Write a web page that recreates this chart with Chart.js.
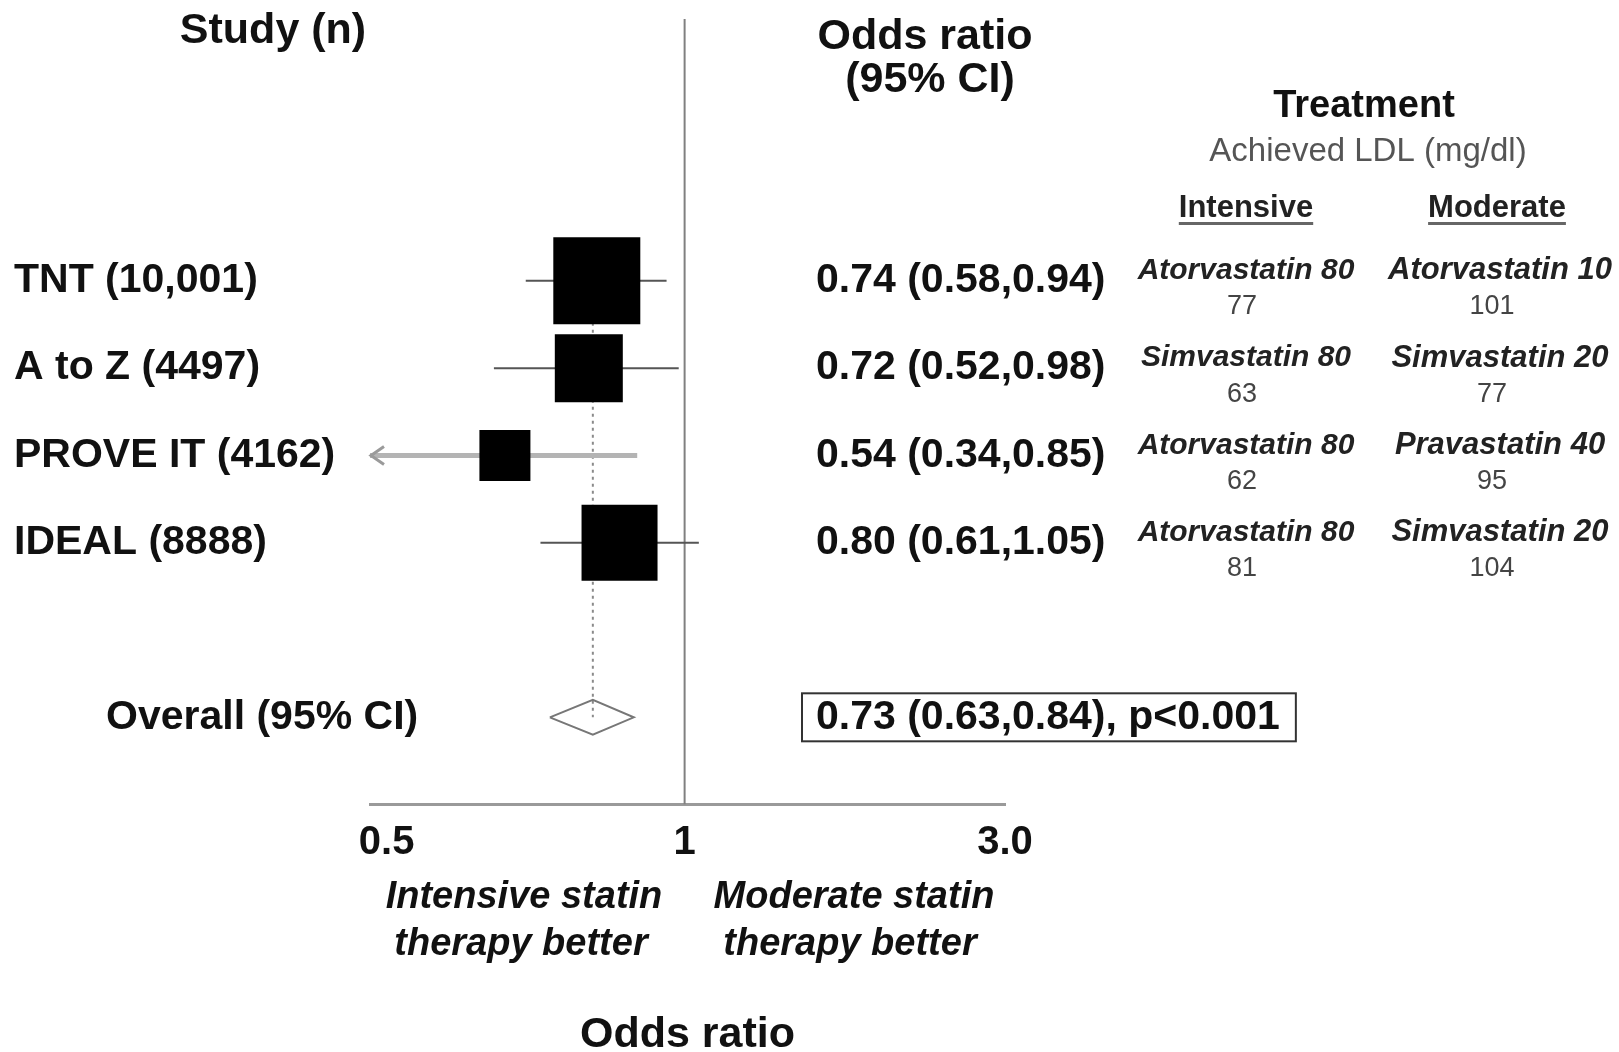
<!DOCTYPE html>
<html>
<head>
<meta charset="utf-8">
<script src="https://cdn.jsdelivr.net/npm/chart.js@4.4.1/dist/chart.umd.min.js"></script>
<style>
  html, body { margin: 0; padding: 0; background: #fff; }
  #wrap { width: 1619px; height: 1052px; }
</style>
</head>
<body>
<div id="wrap"><canvas id="forest" width="1619" height="1052"></canvas></div>
<script>
"use strict";

// study data
var studies = ['TNT (10,001)', 'A to Z (4497)', 'PROVE IT (4162)', 'IDEAL (8888)'];
var oddsRatio = [0.74, 0.72, 0.54, 0.80];
var ciLow = [0.58, 0.52, 0.34, 0.61];
var ciHigh = [0.94, 0.98, 0.85, 1.05];
var intensiveDrug = ['Atorvastatin 80', 'Simvastatin 80', 'Atorvastatin 80', 'Atorvastatin 80'];
var intensiveLDL = [77, 63, 62, 81];
var moderateDrug = ['Atorvastatin 10', 'Simvastatin 20', 'Pravastatin 40', 'Simvastatin 20'];
var moderateLDL = [101, 77, 95, 104];

var overallLabel = 'Overall (95% CI)';
var overallOR = 0.73;
var overallLow = 0.63;
var overallHigh = 0.84;
var overallP = 'p<0.001';

var tickValues = [0.36, 1, 3.0];
var tickLabels = ['0.5', '1', '3.0'];

// look
var boxSide = [87, 68, 51, 76];
var ciColor = ['#555', '#555', '#b4b4b4', '#555'];
var ciWidth = [2, 2, 5, 2];
var FONT = '"Liberation Sans", Arial, sans-serif';
var overallRow = studies.length + 2;

Chart.defaults.font.family = FONT;

function fmt(v) { return v.toFixed(2); }
function ciText(or, lo, hi) { return fmt(or) + ' (' + fmt(lo) + ',' + fmt(hi) + ')'; }

var datasets = [];

datasets.push({
	label: 'Odds ratio',
	data: oddsRatio.map(function (v, i) { return {x: v, y: i + 1}; }),
	pointStyle: 'rect',
	pointRadius: function (ctx) { return boxSide[ctx.dataIndex] / Math.SQRT2; },
	backgroundColor: '#000',
	borderWidth: 0,
	order: 0
});

for (var i = 0; i < studies.length; i++) {
	datasets.push({
		label: studies[i] + ' CI',
		data: [{x: ciLow[i], y: i + 1}, {x: ciHigh[i], y: i + 1}],
		showLine: true,
		borderColor: ciColor[i],
		borderWidth: ciWidth[i],
		pointRadius: 0,
		order: 1
	});
}

datasets.push({
	label: 'Overall',
	data: [
		{x: overallLow, y: overallRow},
		{x: overallOR, y: overallRow - 0.2},
		{x: overallHigh, y: overallRow},
		{x: overallOR, y: overallRow + 0.2},
		{x: overallLow, y: overallRow}
	],
	showLine: true,
	borderColor: '#777',
	borderWidth: 2,
	pointRadius: 0,
	fill: false,
	order: 1
});

datasets.push({
	label: 'Overall estimate',
	data: [{x: overallOR, y: 1}, {x: overallOR, y: overallRow}],
	showLine: true,
	borderColor: '#8a8a8a',
	borderWidth: 2,
	borderDash: [3, 4],
	pointRadius: 0,
	order: 2
});

datasets.push({
	label: 'No effect',
	data: [{x: 1, y: -2}, {x: 1, y: 7}],
	showLine: true,
	borderColor: '#808080',
	borderWidth: 2,
	pointRadius: 0,
	order: 3
});

function txt(ctx, s, x, y, font, color, align) {
	ctx.font = font;
	ctx.fillStyle = color || '#111';
	ctx.textAlign = align || 'left';
	ctx.textBaseline = 'middle';
	ctx.fillText(s, x, y);
	return ctx.measureText(s).width;
}

var forestText = {
	id: 'forestText',
	afterDraw: function (chart) {
		var ctx = chart.ctx;
		var xs = chart.scales.x;
		var ys = chart.scales.y;
		ctx.save();

		// headers
		txt(ctx, 'Study (n)', 273, 31, 'bold 43px ' + FONT, '#111', 'center');
		txt(ctx, 'Odds ratio', 925, 37, 'bold 43px ' + FONT, '#111', 'center');
		txt(ctx, '(95% CI)', 930, 80, 'bold 43px ' + FONT, '#111', 'center');
		txt(ctx, 'Treatment', 1364, 107, 'bold 38px ' + FONT, '#111', 'center');
		txt(ctx, 'Achieved LDL (mg/dl)', 1368, 152, '33px ' + FONT, '#555', 'center');
		var cols = [1246, 1500];
		var heads = ['Intensive', 'Moderate'];
		for (var c = 0; c < 2; c++) {
			var w = txt(ctx, heads[c], cols[c] - 3 * c, 208, 'bold 31px ' + FONT, '#222', 'center');
			ctx.fillStyle = '#666';
			ctx.fillRect(cols[c] - 3 * c - w / 2, 222, w, 3);
		}

		// rows
		for (var i = 0; i < studies.length; i++) {
			var y = ys.getPixelForValue(i + 1);
			txt(ctx, studies[i], 14, y, 'bold 41px ' + FONT);
			txt(ctx, ciText(oddsRatio[i], ciLow[i], ciHigh[i]), 816, y, 'bold 41px ' + FONT);
			txt(ctx, intensiveDrug[i], cols[0], y - 10, 'italic bold 30px ' + FONT, '#222', 'center');
			txt(ctx, moderateDrug[i], cols[1], y - 10, 'italic bold 31px ' + FONT, '#222', 'center');
			txt(ctx, String(intensiveLDL[i]), cols[0] - 4, y + 26, '27px ' + FONT, '#444', 'center');
			txt(ctx, String(moderateLDL[i]), cols[1] - 8, y + 26, '27px ' + FONT, '#444', 'center');

			// arrow when CI runs off the axis
			if (ciLow[i] <= xs.min * 1.001) {
				var ax = xs.getPixelForValue(ciLow[i]);
				ctx.strokeStyle = '#9a9a9a';
				ctx.lineWidth = 3;
				ctx.beginPath();
				ctx.moveTo(ax + 14, y - 9);
				ctx.lineTo(ax + 1, y);
				ctx.lineTo(ax + 14, y + 9);
				ctx.stroke();
			}
		}

		// overall
		var oy = ys.getPixelForValue(overallRow);
		txt(ctx, overallLabel, 106, oy, 'bold 41px ' + FONT);
		var ow = txt(ctx, ciText(overallOR, overallLow, overallHigh) + ', ' + overallP, 816, oy, 'bold 41px ' + FONT);
		ctx.strokeStyle = '#333';
		ctx.lineWidth = 2;
		ctx.strokeRect(802, oy - 24, ow + 30, 48);

		// favours labels
		var ib = 'italic bold 38px ' + FONT;
		txt(ctx, 'Intensive statin', 524, 898, ib, '#111', 'center');
		txt(ctx, 'therapy better', 521, 945, ib, '#111', 'center');
		txt(ctx, 'Moderate statin', 854, 898, ib, '#111', 'center');
		txt(ctx, 'therapy better', 850, 945, ib, '#111', 'center');

		ctx.restore();
	}
};

var forestChart = new Chart(document.getElementById('forest').getContext('2d'), {
	type: 'scatter',
	data: {datasets: datasets},
	options: {
		responsive: false,
		animation: false,
		devicePixelRatio: 1,
		layout: {autoPadding: false, padding: {left: 370, right: 614, top: 19, bottom: 0}},
		plugins: {legend: {display: false}, tooltip: {enabled: false}},
		scales: {
			x: {
				type: 'logarithmic',
				bounds: 'data',
				min: 0.34,
				max: 3.0,
				grid: {display: false, drawTicks: false},
				border: {display: true, color: '#9a9a9a', width: 3},
				afterBuildTicks: function (axis) {
					axis.ticks = tickValues.map(function (v) { return {value: v}; });
				},
				ticks: {
					autoSkip: false,
					maxRotation: 0,
					padding: 14,
					color: '#111',
					font: {size: 40, weight: 'bold', lineHeight: 1.2},
					callback: function (v, idx) { return tickLabels[idx]; }
				},
				title: {
					display: true,
					text: 'Odds ratio',
					color: '#111',
					font: {size: 43, weight: 'bold', lineHeight: 0.8},
					padding: {top: 137, bottom: 0}
				}
			},
			y: {
				type: 'linear',
				min: -2,
				max: 7,
				reverse: true,
				display: false
			}
		}
	},
	plugins: [forestText]
});
</script>
</body>
</html>
